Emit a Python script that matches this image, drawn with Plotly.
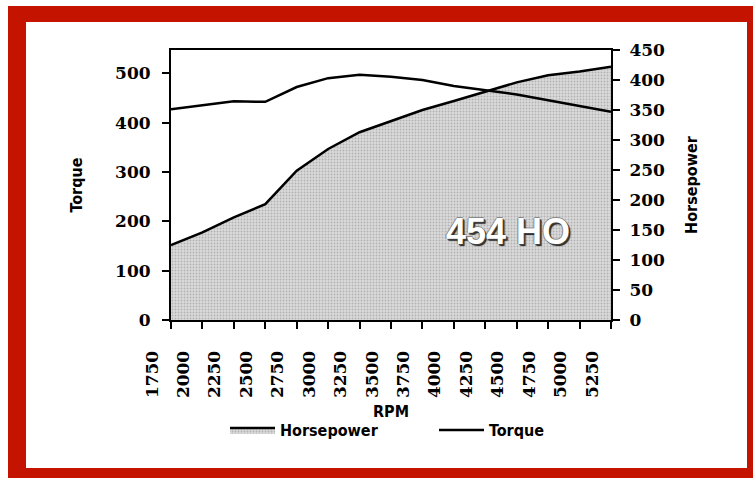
import plotly.graph_objects as go

# ---- data ----
rpm = [1750, 2000, 2250, 2500, 2750, 3000, 3250, 3500, 3750, 4000, 4250, 4500, 4750, 5000, 5250]
rpm_labels = [str(v) for v in rpm]
horsepower = [125, 146, 171, 193, 249, 285, 313, 332, 350, 365, 380, 396, 408, 414, 422]
torque = [427, 435, 443, 442, 472, 490, 497, 493, 486, 474, 466, 457, 445, 434, 422]
hp_ticks = [0, 50, 100, 150, 200, 250, 300, 350, 400, 450]
tq_ticks = [0, 100, 200, 300, 400, 500]

W, H = 753, 478
ML, MR, MT, MB = 171, 142, 50, 158
PW, PH = W - ML - MR, H - MT - MB


def px(x):
    return (x - ML) / PW


def py(y):
    return (H - MB - y) / PH


RED = "#C41400"
NUM_FONT = dict(family="DejaVu Serif", size=17, color="black", weight="bold")
TITLE_FONT = dict(family="DejaVu Sans Condensed, Liberation Sans Narrow, Liberation Sans",
                  size=16, color="black", weight="bold")

fig = go.Figure()

fig.add_trace(go.Scatter(
    x=rpm, y=horsepower, name="Horsepower", mode="lines",
    line=dict(color="black", width=2.5),
    fill="tozeroy", fillcolor="#cccccc",
    fillpattern=dict(shape=".", bgcolor="#dadada", fgcolor="#8a8a8a", size=3, solidity=0.3),
    yaxis="y",
))
fig.add_trace(go.Scatter(
    x=rpm, y=torque, name="Torque", mode="lines",
    line=dict(color="black", width=2.5),
    yaxis="y2",
))

fig.update_layout(
    width=W, height=H,
    margin=dict(l=ML, r=MR, t=MT, b=MB, pad=0),
    paper_bgcolor="white", plot_bgcolor="white",
    showlegend=True,
    legend=dict(
        orientation="h", x=px(225), xanchor="left", y=py(413), yanchor="top",
        font=TITLE_FONT, itemwidth=45, traceorder="normal",
        entrywidth=149, entrywidthmode="pixels",
        bgcolor="rgba(0,0,0,0)",
    ),
    xaxis=dict(
        type="linear", range=[rpm[0], rpm[-1]], tickmode="array",
        tickvals=rpm, ticktext=rpm_labels, tickangle=-90,
        ticks="outside", ticklen=7, tickwidth=2, tickcolor="black",
        ticklabelshift=-19, ticklabelstandoff=15,
        showline=True, linecolor="black", linewidth=2, mirror=True,
        showgrid=False, zeroline=False, tickfont=NUM_FONT,
        title=dict(text="RPM", font=TITLE_FONT, standoff=9),
    ),
    yaxis=dict(
        side="right", range=[0, 450], tickmode="array", tickvals=hp_ticks,
        ticks="outside", ticklen=7, tickwidth=2, tickcolor="black",
        ticklabelstandoff=6,
        showline=True, linecolor="black", linewidth=2,
        showgrid=False, zeroline=False, tickfont=NUM_FONT,
        title=dict(text="Horsepower", font=TITLE_FONT, standoff=22),
    ),
    yaxis2=dict(
        side="left", overlaying="y", range=[0, 547], tickmode="array", tickvals=tq_ticks,
        ticks="outside", ticklen=7, tickwidth=2, tickcolor="black",
        ticklabelstandoff=8,
        showline=True, linecolor="black", linewidth=2,
        showgrid=False, zeroline=False, tickfont=NUM_FONT,
        title=dict(text="Torque", font=TITLE_FONT, standoff=28),
    ),
    shapes=[
        dict(type="rect", xref="paper", yref="paper", layer="below",
             x0=px(8), x1=px(W + 2), y0=py(6), y1=py(H + 2),
             fillcolor=RED, line=dict(width=0)),
        dict(type="rect", xref="paper", yref="paper", layer="below",
             x0=px(26), x1=px(747), y0=py(22), y1=py(468),
             fillcolor="white", line=dict(width=0)),
    ],
    annotations=[
        dict(text="454 HO", xref="paper", yref="paper", x=px(508), y=py(231),
             showarrow=False, xanchor="center", yanchor="middle",
             font=dict(family="Liberation Sans", size=36, color="white", weight="bold",
                       shadow="1px 1px 0 #444, 2px 2px 1px #222, -1px 0 0 #888, 0 -1px 0 #888")),
    ],
)

fig.write_html("out.html", config={"displayModeBar": False},
               post_script="document.body.style.margin='0';")
